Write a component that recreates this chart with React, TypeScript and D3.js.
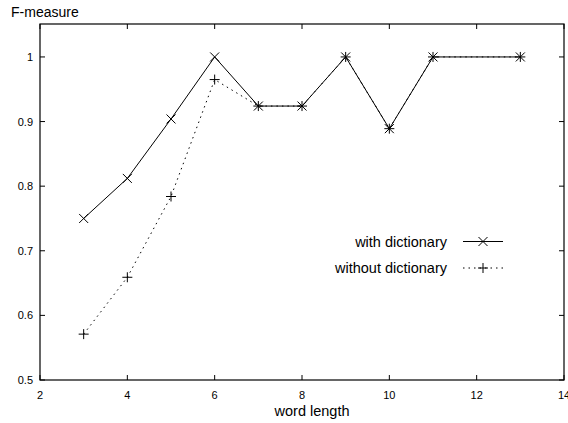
import React, { useEffect, useRef } from "react";
import * as d3 from "d3";

const wordLength = [3, 4, 5, 6, 7, 8, 9, 10, 11, 13];
const withDictionary = [0.75, 0.812, 0.904, 1.0, 0.924, 0.924, 1.0, 0.889, 1.0, 1.0];
const withoutDictionary = [0.571, 0.659, 0.784, 0.965, 0.924, 0.924, 1.0, 0.889, 1.0, 1.0];
const xTicks = [2, 4, 6, 8, 10, 12, 14];
const yTicks = [0.5, 0.6, 0.7, 0.8, 0.9, 1];

const App = () => {
  const svgRef = useRef<SVGSVGElement>(null);

  useEffect(() => {
    const width = 568;
    const height = 423;
    const margin = { top: 24, right: 4, bottom: 43, left: 40 };
    const font = "'Liberation Sans', Arial, Helvetica, sans-serif";

    const svg = d3.select(svgRef.current);
    svg.selectAll("*").remove();
    svg.attr("width", width).attr("height", height);

    const x = d3.scaleLinear().domain([2, 14]).range([margin.left, width - margin.right]);
    const y = d3.scaleLinear().domain([0.5, 1.051]).range([height - margin.bottom, margin.top]);

    const x0 = x.range()[0], x1 = x.range()[1];
    const y0 = y.range()[0], y1 = y.range()[1];
    const tick = 5;

    // frame
    svg
      .append("rect")
      .attr("x", x0)
      .attr("y", y1)
      .attr("width", x1 - x0)
      .attr("height", y0 - y1)
      .attr("fill", "none")
      .attr("stroke", "#000")
      .attr("stroke-width", 1.2);

    // x ticks (bottom and top, inward)
    const gx = svg.append("g");
    xTicks.forEach((t) => {
      gx.append("line").attr("x1", x(t)).attr("x2", x(t)).attr("y1", y0).attr("y2", y0 - tick).attr("stroke", "#000");
      gx.append("line").attr("x1", x(t)).attr("x2", x(t)).attr("y1", y1).attr("y2", y1 + tick).attr("stroke", "#000");
      gx.append("text")
        .attr("x", x(t))
        .attr("y", y0 + 18.5)
        .attr("text-anchor", "middle")
        .attr("font-family", font)
        .attr("font-size", 11)
        .text(d3.format("d")(t));
    });

    // y ticks (left and right, inward)
    const gy = svg.append("g");
    yTicks.forEach((t) => {
      gy.append("line").attr("x1", x0).attr("x2", x0 + tick).attr("y1", y(t)).attr("y2", y(t)).attr("stroke", "#000");
      gy.append("line").attr("x1", x1).attr("x2", x1 - tick).attr("y1", y(t)).attr("y2", y(t)).attr("stroke", "#000");
      gy.append("text")
        .attr("x", x0 - 7)
        .attr("y", y(t) + 4)
        .attr("text-anchor", "end")
        .attr("font-family", font)
        .attr("font-size", 11)
        .text(t === 1 ? "1" : d3.format(".1f")(t));
    });

    svg.append("text")
      .attr("x", 11)
      .attr("y", 17)
      .attr("font-family", font)
      .attr("font-size", 14)
      .text("F-measure");

    svg.append("text")
      .attr("x", 312)
      .attr("y", 416)
      .attr("text-anchor", "middle")
      .attr("font-family", font)
      .attr("font-size", 14.5)
      .text("word length");

    const line = d3
      .line<number>()
      .x((_, i) => x(wordLength[i]))
      .y((d) => y(d));

    const crossMark = (g: any, cx: number, cy: number) => {
      const s = 4.5;
      g.append("path")
        .attr("d", `M${cx - s},${cy - s}L${cx + s},${cy + s}M${cx - s},${cy + s}L${cx + s},${cy - s}`)
        .attr("stroke", "#000")
        .attr("stroke-width", 1);
    };
    const plusMark = (g: any, cx: number, cy: number) => {
      const s = 5;
      g.append("path")
        .attr("d", `M${cx - s},${cy}L${cx + s},${cy}M${cx},${cy - s}L${cx},${cy + s}`)
        .attr("stroke", "#000")
        .attr("stroke-width", 1);
    };

    // without dictionary (dotted)
    svg.append("path")
      .datum(withoutDictionary)
      .attr("d", line)
      .attr("fill", "none")
      .attr("stroke", "#000")
      .attr("stroke-width", 1)
      .attr("stroke-dasharray", "1.5,4");

    // with dictionary (solid)
    svg.append("path")
      .datum(withDictionary)
      .attr("d", line)
      .attr("fill", "none")
      .attr("stroke", "#000")
      .attr("stroke-width", 1);

    const gm = svg.append("g");
    withDictionary.forEach((v, i) => crossMark(gm, x(wordLength[i]), y(v)));
    withoutDictionary.forEach((v, i) => plusMark(gm, x(wordLength[i]), y(v)));

    // legend
    const legend = [
      { label: "with dictionary", dash: null, mark: crossMark, cy: 241.5 },
      { label: "without dictionary", dash: "1.5,4", mark: plusMark, cy: 268 },
    ];
    legend.forEach((l) => {
      svg.append("text")
        .attr("x", 447)
        .attr("y", l.cy + 5)
        .attr("text-anchor", "end")
        .attr("font-family", font)
        .attr("font-size", 14.5)
        .text(l.label);
      svg.append("line")
        .attr("x1", 463)
        .attr("x2", 503)
        .attr("y1", l.cy)
        .attr("y2", l.cy)
        .attr("stroke", "#000")
        .attr("stroke-width", 1)
        .attr("stroke-dasharray", l.dash);
      l.mark(svg, 483, l.cy);
    });
  }, []);

  return (
    <svg ref={svgRef} style={{ position: "absolute", left: 0, top: 0, background: "#fff" }}></svg>
  );
};

export default App;
